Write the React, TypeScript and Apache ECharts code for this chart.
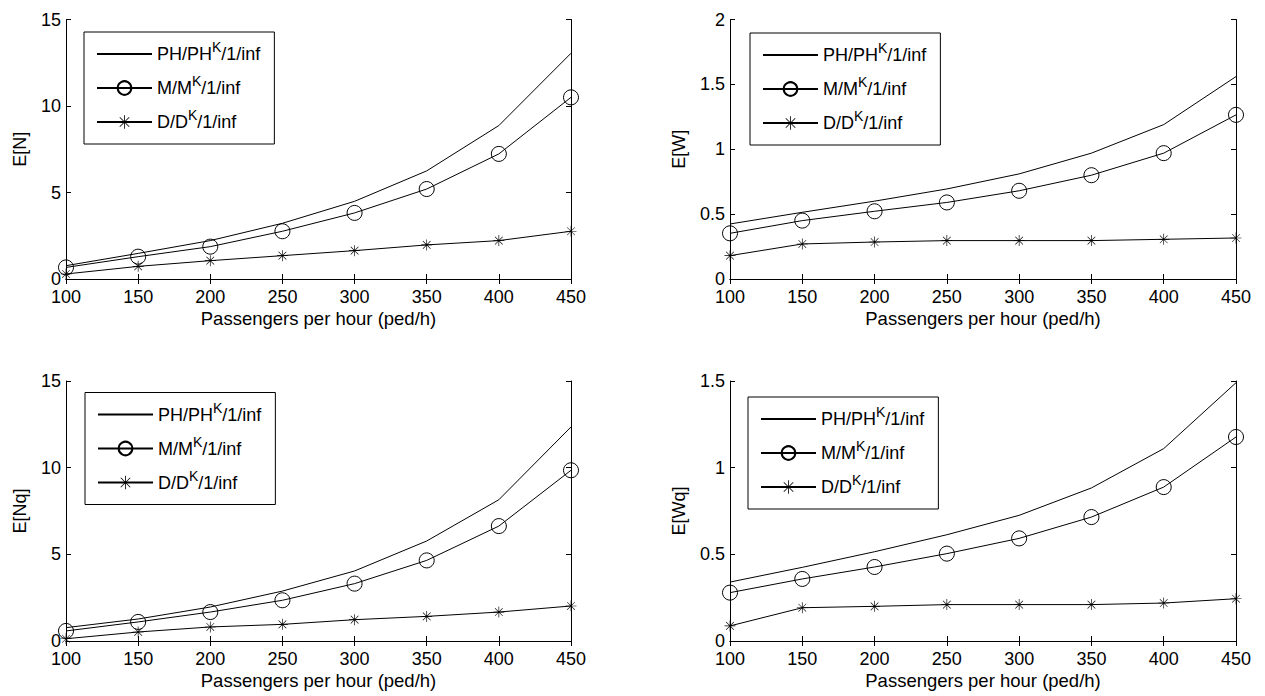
import React, { useEffect, useRef } from "react";
import * as echarts from "echarts";

const xs = [100, 150, 200, 250, 300, 350, 400, 450];
const seriesNames = ["PH/PH^K/1/inf", "M/M^K/1/inf", "D/D^K/1/inf"];

const phN = [0.77, 1.48, 2.22, 3.22, 4.49, 6.25, 8.87, 13.05];
const mmN = [0.67, 1.29, 1.87, 2.76, 3.82, 5.2, 7.23, 10.5];
const ddN = [0.29, 0.73, 1.06, 1.35, 1.64, 1.97, 2.22, 2.76];

const phW = [0.424, 0.514, 0.6, 0.694, 0.81, 0.97, 1.19, 1.56];
const mmW = [0.352, 0.45, 0.522, 0.59, 0.68, 0.8, 0.97, 1.265];
const ddW = [0.18, 0.27, 0.285, 0.296, 0.296, 0.296, 0.306, 0.316];

const phNq = [0.77, 1.27, 1.96, 2.88, 4.04, 5.77, 8.15, 12.35];
const mmNq = [0.58, 1.1, 1.67, 2.35, 3.31, 4.65, 6.63, 9.85];
const ddNq = [0.13, 0.52, 0.81, 0.96, 1.23, 1.42, 1.67, 2.02];

const phWq = [0.34, 0.425, 0.515, 0.613, 0.725, 0.883, 1.11, 1.49];
const mmWq = [0.279, 0.358, 0.427, 0.504, 0.592, 0.715, 0.888, 1.177];
const ddWq = [0.087, 0.192, 0.2, 0.21, 0.21, 0.21, 0.219, 0.244];

const yNames = ["E[N]", "E[W]", "E[Nq]", "E[Wq]"];
const yMaxes = [15, 2, 15, 1.5];
const yIntervals = [5, 0.5, 5, 0.5];
const xName = "Passengers per hour (ped/h)";

const FONT = "'Liberation Sans', Arial, Helvetica, sans-serif";
const STAR =
  "path://M9.4 0h1.2v20h-1.2z M0 9.4h20v1.2h-20z M2.6 3.4l0.8-0.8l14 14l-0.8 0.8z M16.6 2.6l0.8 0.8l-14 14l-0.8-0.8z";

export default function App() {
  const ref = useRef<HTMLDivElement>(null);

  useEffect(() => {
    if (!ref.current) return;
    const chart = echarts.init(ref.current, undefined, { renderer: "svg" });

    const panels = [
      { data: [phN, mmN, ddN], grid: { left: 66, top: 19.5, width: 505, height: 259.5 }, legend: { left: 84, top: 32 }, gap: 37 },
      { data: [phW, mmW, ddW], grid: { left: 730, top: 19.5, width: 506, height: 259.5 }, legend: { left: 750, top: 33 }, gap: 42 },
      { data: [phNq, mmNq, ddNq], grid: { left: 66, top: 381, width: 505, height: 260 }, legend: { left: 85, top: 392.5 }, gap: 37 },
      { data: [phWq, mmWq, ddWq], grid: { left: 730, top: 381, width: 506, height: 260 }, legend: { left: 748, top: 397 }, gap: 42 },
    ];

    const axisLine = { show: true, lineStyle: { color: "#000", width: 1 } };
    const tick = { show: true, inside: true, length: 5, lineStyle: { color: "#000", width: 1 } };
    const label = { color: "#000", fontSize: 18, fontFamily: FONT };

    const grid: any[] = [];
    const xAxis: any[] = [];
    const yAxis: any[] = [];
    const series: any[] = [];
    const legend: any[] = [];

    panels.forEach((p, i) => {
      grid.push({ ...p.grid, show: false });
      xAxis.push({
        type: "value", gridIndex: i, min: 100, max: 450, interval: 50, position: "bottom",
        axisLine, axisTick: tick, splitLine: { show: false },
        axisLabel: { ...label, margin: 10, lineHeight: 15 },
        name: xName, nameLocation: "middle", nameGap: 30,
        nameTextStyle: { color: "#000", fontSize: 18.5, fontFamily: FONT },
      });
      xAxis.push({
        type: "value", gridIndex: i, min: 100, max: 450, interval: 50, position: "top",
        axisLine, axisTick: tick, splitLine: { show: false }, axisLabel: { show: false },
      });
      yAxis.push({
        type: "value", gridIndex: i, min: 0, max: yMaxes[i], interval: yIntervals[i], position: "left",
        axisLine, axisTick: tick, splitLine: { show: false },
        axisLabel: { ...label, margin: 5, lineHeight: 14 },
        name: yNames[i], nameLocation: "middle", nameGap: p.gap,
        nameTextStyle: { color: "#000", fontSize: 18, fontFamily: FONT },
      });
      yAxis.push({
        type: "value", gridIndex: i, min: 0, max: yMaxes[i], interval: yIntervals[i], position: "right",
        axisLine, axisTick: tick, splitLine: { show: false }, axisLabel: { show: false },
      });

      const [ph, mm, dd] = p.data;
      const mk = (arr: number[]) => xs.map((x, k) => [x, arr[k]]);
      const base = {
        type: "line", xAxisIndex: i * 2, yAxisIndex: i * 2,
        lineStyle: { color: "#000", width: 1 }, itemStyle: { color: "#000" },
        emphasis: { disabled: true }, silent: true,
      };
      series.push({ ...base, name: seriesNames[0], data: mk(ph), symbol: "none", showSymbol: false });
      series.push({
        ...base, name: seriesNames[1], data: mk(mm), symbol: "circle", symbolSize: 15,
        itemStyle: { color: "rgba(0,0,0,0)", borderColor: "#000", borderWidth: 1 },
      });
      series.push({ ...base, name: seriesNames[2], data: mk(dd), symbol: STAR, symbolSize: 11 });

      legend.push({
        ...p.legend,
        orient: "vertical",
        data: [
          { name: seriesNames[0], itemStyle: { opacity: 0 } },
          { name: seriesNames[1] },
          { name: seriesNames[2] },
        ],
        selectedMode: false,
        itemWidth: 55,
        itemHeight: 17,
        itemGap: 11,
        padding: [8, 14, 13, 12],
        borderColor: "#000",
        borderWidth: 1,
        backgroundColor: "#fff",
        formatter: (name: string) => {
          const [a, b] = name.split("^K");
          return `{b|${a}}{s|K}{b|${b}}`;
        },
        textStyle: {
          color: "#000", fontSize: 18, fontFamily: FONT,
          rich: {
            b: { color: "#000", fontSize: 18, lineHeight: 28, fontFamily: FONT },
            s: { color: "#000", fontSize: 14, lineHeight: 14, verticalAlign: "top", fontFamily: FONT },
          },
        },
      });
    });

    chart.setOption({
      animation: false,
      backgroundColor: "#fff",
      grid, xAxis, yAxis, series, legend,
    });

    return () => chart.dispose();
  }, []);

  return (
    <div
      ref={ref}
      style={{ position: "fixed", left: 0, top: 0, width: 1265, height: 696, background: "#fff" }}
    />
  );
}
